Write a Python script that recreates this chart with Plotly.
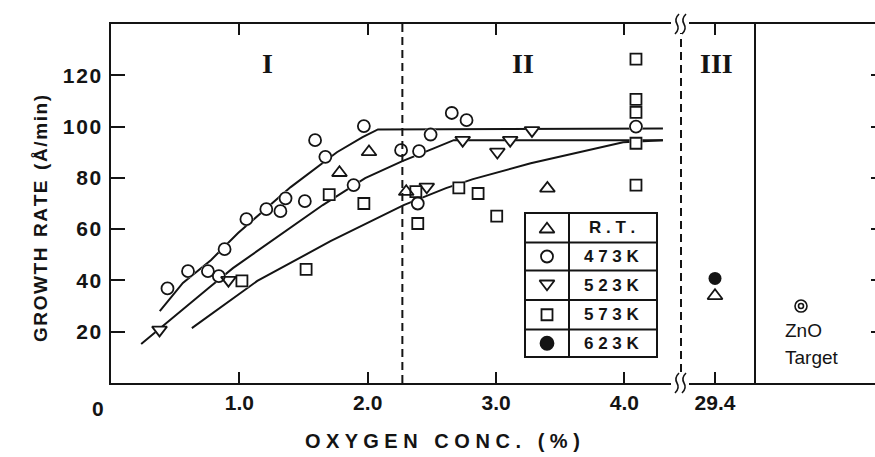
import plotly.graph_objects as go

# ---------------- data: growth rate (A/min) vs. oxygen concentration (%) ----------------
oxygen_rt = [1.78, 2.01, 2.30, 3.40]
rate_rt = [82.0, 90.1, 74.6, 75.9]

oxygen_473 = [0.44, 0.60, 0.755, 0.84, 0.885, 1.055, 1.21, 1.32, 1.36, 1.51, 1.59, 1.67,
              1.89, 1.97, 2.26, 2.40, 2.39, 2.49, 2.655, 2.77, 4.09]
rate_473 = [36.9, 43.6, 43.6, 41.7, 52.2, 63.9, 67.8, 67.0, 72.0, 70.9, 94.7, 88.2,
            77.2, 100.2, 90.8, 90.4, 70.0, 96.9, 105.3, 102.5, 100.0]

oxygen_523 = [0.378, 0.915, 2.46, 2.74, 3.01, 3.11, 3.28]
rate_523 = [20.7, 40.1, 76.5, 94.7, 90.1, 94.7, 98.5]

oxygen_573 = [1.02, 1.52, 1.70, 1.97, 2.375, 2.39, 2.71, 2.86, 3.005,
              4.09, 4.09, 4.09, 4.09, 4.09]
rate_573 = [39.8, 44.3, 73.5, 70.0, 74.6, 62.2, 76.1, 73.9, 65.1,
            126.3, 110.6, 105.5, 93.5, 77.2]

# oxygen-rich point (29.4 %)
oxygen_high = [29.4]
rate_high_rt = [34.0]
rate_high_623 = [40.8]

# ZnO target reference
target_label = ["ZnO Target"]
rate_target = [30.0]

# hand-drawn trend curves
trend_473_x = [0.38, 0.56, 0.78, 0.99, 1.40, 1.63, 1.76, 1.96, 2.08, 4.30]
trend_473_y = [28.0, 39.0, 48.0, 58.5, 76.4, 85.0, 90.0, 95.9, 98.9, 99.2]
trend_523_x = [0.235, 0.44, 0.77, 0.95, 1.65, 1.98, 2.27, 2.50, 2.67, 4.30]
trend_523_y = [15.2, 23.8, 37.4, 44.8, 69.4, 79.9, 86.5, 91.2, 94.7, 94.7]
trend_573_x = [0.63, 0.97, 1.14, 1.71, 2.28, 2.61, 2.82, 3.27, 3.99, 4.30]
trend_573_y = [21.4, 33.9, 39.8, 55.3, 69.4, 76.0, 79.5, 85.7, 93.9, 94.7]

x_ticks = [1, 2, 3, 4]
x_tick_text = ["1.0", "2.0", "3.0", "4.0"]
x_high_ticks = [29.4]
x_high_tick_text = ["29.4"]
y_ticks = [20, 40, 60, 80, 100, 120]
legend_labels = ["R . T .", "4 7 3 K", "5 2 3 K", "5 7 3 K", "6 2 3 K"]

# ---------------- layout geometry (pixels) ----------------
W, H = 875, 457
L, R, T, B = 111, 0, 24, 74
PW, PH = W - L - R, H - T - B
BREAK_PX = 680
PANEL_PX = 755
PX_PER_UNIT = 128.4
X_MAX = (BREAK_PX - 110.8) / PX_PER_UNIT
Y_MAX = 140
HAIR = "\u200a"


def pxx(px):
    return (px - L) / PW


def pxy(py):
    return (H - B - py) / PH


def data_x(px):
    return (px - L) / (BREAK_PX - L) * X_MAX


def data_y(py):
    return (H - B - py) / PH * Y_MAX


d1 = pxx(BREAK_PX)
d2 = pxx(PANEL_PX)

SANS = "Liberation Sans, Arial, sans-serif"
SERIF = "Liberation Serif, Times New Roman, serif"
INK = "#141414"

fig = go.Figure()

# trend curves
for tx, ty in [(trend_473_x, trend_473_y), (trend_523_x, trend_523_y), (trend_573_x, trend_573_y)]:
    fig.add_trace(go.Scatter(x=tx, y=ty, mode="lines", line=dict(color=INK, width=2),
                             hoverinfo="skip", showlegend=False))

series = [
    (oxygen_rt, rate_rt, "triangle-up", 13),
    (oxygen_473, rate_473, "circle", 12),
    (oxygen_523, rate_523, "triangle-down", 13),
    (oxygen_573, rate_573, "square", 11),
]

# white mask so curves stop at each symbol
for xs, ys, sym, size in series:
    fig.add_trace(go.Scatter(x=xs, y=ys, mode="markers", hoverinfo="skip", showlegend=False,
                             marker=dict(symbol=sym, size=size + 2, color="white", line=dict(width=0))))
# open symbols
for xs, ys, sym, size in series:
    fig.add_trace(go.Scatter(x=xs, y=ys, mode="markers", showlegend=False,
                             marker=dict(symbol=sym + "-open", size=size, color=INK,
                                         line=dict(width=1.8, color=INK))))

# 29.4 % panel
fig.add_trace(go.Scatter(x=oxygen_high, y=rate_high_rt, xaxis="x2", yaxis="y", mode="markers",
                         showlegend=False,
                         marker=dict(symbol="triangle-up-open", size=13, color=INK, line=dict(width=1.8))))
fig.add_trace(go.Scatter(x=oxygen_high, y=rate_high_623, xaxis="x2", yaxis="y", mode="markers",
                         showlegend=False, marker=dict(symbol="circle", size=13, color=INK)))

# ZnO target panel (concentric circles)
fig.add_trace(go.Scatter(x=target_label, y=rate_target, xaxis="x3", yaxis="y2", mode="markers",
                         showlegend=False,
                         marker=dict(symbol="circle-open", size=12, color=INK, line=dict(width=1.6))))
fig.add_trace(go.Scatter(x=target_label, y=rate_target, xaxis="x3", yaxis="y2", mode="markers",
                         showlegend=False, hoverinfo="skip",
                         marker=dict(symbol="circle-open", size=5, color=INK, line=dict(width=1.6))))

# legend table symbols
leg_left, leg_right, leg_top, leg_bottom = 525, 657, 213, 357
leg_rows = [213, 242.5, 270.5, 300, 329.5, 357]
leg_col = 569
leg_sym_x = 547
leg_text_x = 612
leg_syms = [("triangle-up-open", 13), ("circle-open", 12), ("triangle-down-open", 13),
            ("square-open", 11), ("circle", 13)]
row_mid = [(leg_rows[i] + leg_rows[i + 1]) / 2 for i in range(5)]
for (sym, size), ym in zip(leg_syms, row_mid):
    nudge = 1.5 if "up" in sym else (-1.5 if "down" in sym else 0)
    fig.add_trace(go.Scatter(x=[data_x(leg_sym_x)], y=[data_y(ym + nudge)], mode="markers",
                             showlegend=False, hoverinfo="skip",
                             marker=dict(symbol=sym, size=size, color=INK, line=dict(width=1.8, color=INK))))

axis_common = dict(showgrid=False, zeroline=False, showline=True, linecolor=INK, linewidth=2)
tick_font = dict(family=SANS, size=21, color=INK, weight="bold")
inside_x = dict(ticks="inside", ticklen=11, tickwidth=2, tickcolor=INK, mirror="ticks")

fig.update_layout(
    width=W, height=H,
    margin=dict(l=L, r=R, t=T, b=B),
    paper_bgcolor="white", plot_bgcolor="white",
    showlegend=False,
    xaxis=dict(domain=[0, d1], range=[0, X_MAX], anchor="y",
               tickmode="array", tickvals=x_ticks, ticktext=x_tick_text,
               tickfont=tick_font, **inside_x, **axis_common),
    xaxis2=dict(domain=[d1, d2],
                range=[29.4 - (715 - BREAK_PX) / PX_PER_UNIT, 29.4 + (PANEL_PX - 715) / PX_PER_UNIT],
                anchor="y", tickmode="array", tickvals=x_high_ticks, ticktext=x_high_tick_text,
                tickfont=tick_font, **inside_x, **axis_common),
    xaxis3=dict(domain=[d2, 1], range=[-(801 - PANEL_PX) / (W - PANEL_PX), 1 - (801 - PANEL_PX) / (W - PANEL_PX)],
                type="category", anchor="y2", showticklabels=False, ticks="", mirror=True, **axis_common),
    yaxis=dict(domain=[0, 1], range=[0, Y_MAX], anchor="x", tickmode="array", tickvals=y_ticks,
               ticktext=[HAIR.join(str(v)) + HAIR + HAIR for v in y_ticks],
               ticks="inside", ticklen=14, tickwidth=2, tickcolor=INK,
               tickfont=tick_font, **axis_common),
    yaxis2=dict(domain=[0, 1], range=[0, Y_MAX], anchor="x3", side="right",
                tickmode="array", tickvals=y_ticks, showticklabels=False,
                ticks="inside", ticklen=4, tickwidth=2, tickcolor=INK,
                showline=False, showgrid=False, zeroline=False),
)

shapes = []
# region boundaries
shapes.append(dict(type="line", xref="x", yref="paper", x0=2.27, x1=2.27, y0=0, y1=1,
                   line=dict(color=INK, width=2, dash="8px,5px")))
shapes.append(dict(type="line", xref="paper", yref="paper", x0=pxx(681), x1=pxx(681),
                   y0=pxy(372), y1=pxy(33), line=dict(color=INK, width=2, dash="8px,5px")))
shapes.append(dict(type="line", xref="paper", yref="paper", x0=d2, x1=d2, y0=0, y1=1,
                   line=dict(color=INK, width=2)))


# axis-break marks at top and bottom
def wave(xc, yc):
    pts = [(xc + 2, yc - 10), (xc - 3, yc - 5), (xc, yc), (xc + 3, yc + 5), (xc - 2, yc + 10)]
    p = [(pxx(a), pxy(b)) for a, b in pts]
    return "M{},{} Q{},{} {},{} Q{},{} {},{}".format(*[v for q in p for v in q])


for yc in (H - B, T):
    shapes.append(dict(type="rect", xref="paper", yref="paper", x0=pxx(671), x1=pxx(689),
                       y0=pxy(yc + 4), y1=pxy(yc - 4), fillcolor="white", line=dict(width=0)))
    for xc in (677, 684):
        shapes.append(dict(type="path", xref="paper", yref="paper", path=wave(xc, yc),
                           line=dict(color=INK, width=1.6)))

# legend table
shapes.append(dict(type="rect", xref="paper", yref="paper", x0=pxx(leg_left), x1=pxx(leg_right),
                   y0=pxy(leg_bottom), y1=pxy(leg_top), line=dict(color=INK, width=2)))
for yr in leg_rows[1:-1]:
    shapes.append(dict(type="line", xref="paper", yref="paper", x0=pxx(leg_left), x1=pxx(leg_right),
                       y0=pxy(yr), y1=pxy(yr), line=dict(color=INK, width=2)))
shapes.append(dict(type="line", xref="paper", yref="paper", x0=pxx(leg_col), x1=pxx(leg_col),
                   y0=pxy(leg_bottom), y1=pxy(leg_top), line=dict(color=INK, width=2)))
fig.update_layout(shapes=shapes)


def label(text, px, py, size, family=SANS, weight="bold", angle=0, xanchor="center"):
    return dict(x=pxx(px), y=pxy(py), xref="paper", yref="paper", text=text, showarrow=False,
                xanchor=xanchor, yanchor="middle", textangle=angle,
                font=dict(family=family, size=size, color=INK, weight=weight))


ann = []
for text, ym in zip(legend_labels, row_mid):
    ann.append(label(text, leg_text_x, ym, 17))
# region numerals
for text, xp, yp in [("I", 267, 63), ("II", 523, 63), ("III", 716, 64)]:
    ann.append(label(text, xp, yp, 28, family=SERIF))
# origin label
ann.append(label("0", 98, 408, 21))
# axis titles
ann.append(label("O X Y G E N   C O N C .   ( % )", 442, 441, 20))
ann.append(label(("  ").join(HAIR.join(w) for w in ["GROWTH", "RATE", "(Å/min)"]), 40, 219, 19, angle=-90))
# target caption
ann.append(label("ZnO", 783, 330, 19, weight="normal", xanchor="left"))
ann.append(label("Target", 783, 357, 19, weight="normal", xanchor="left"))
fig.update_layout(annotations=ann)

fig.write_html("out.html")
